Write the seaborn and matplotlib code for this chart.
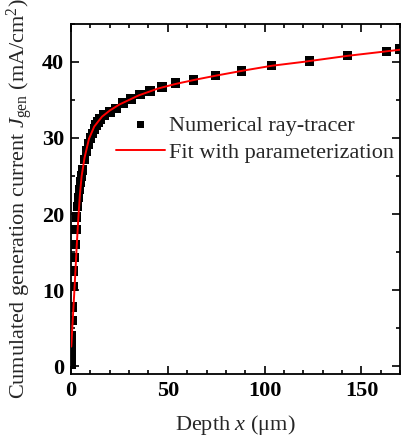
import matplotlib
matplotlib.use("Agg")
import matplotlib.pyplot as plt
import seaborn as sns
import pandas as pd
from matplotlib.ticker import MultipleLocator

# Numerical ray-tracer data (depth in um, J in mA/cm^2)
rt_x = [0, 0.1, 0.2, 0.3, 0.5, 0.7, 1.0, 1.3, 1.6, 2.0, 2.5, 3.0, 3.5, 4.0, 4.5,
        5.0, 5.5, 6.0, 7.0, 8.0, 9.0, 10.0, 11.0, 12.0, 13.0, 14.0, 15.0, 17.0,
        20.1, 23.2, 26.8, 30.9, 35.6, 40.7, 46.9, 54.1, 63.4, 74.7, 88.1, 103.6,
        123.2, 142.8, 162.9, 169.6]
rt_j = [0.3, 1.5, 2.8, 4.0, 6.0, 7.8, 10.5, 12.5, 14.3, 16.0, 18.0, 19.6, 21.0,
        22.2, 23.2, 24.2, 25.0, 25.8, 27.2, 28.3, 29.2, 30.0, 30.6, 31.2, 31.7,
        32.1, 32.5, 33.0, 33.4, 33.9, 34.6, 35.1, 35.7, 36.2, 36.7, 37.2, 37.6,
        38.2, 38.8, 39.5, 40.1, 40.8, 41.4, 41.7]

# Fit with parameterization
fit_x = [0.15, 1.0, 1.6, 2.4, 3.0, 3.8, 4.6, 5.5, 7.0, 9.3, 12.0, 16.0, 20.0,
         25.0, 35.0, 45.0, 54.0, 65.0, 75.0, 90.0, 104.0, 120.0, 143.0, 160.0, 170.0]
fit_j = [2.6, 6.5, 9.2, 13.0, 16.0, 19.5, 22.5, 25.0, 27.4, 29.9, 31.5, 32.8,
         33.6, 34.4, 35.6, 36.5, 37.1, 37.7, 38.2, 38.9, 39.5, 40.0, 40.8, 41.3, 41.6]

sns.set_style("ticks")
plt.rcParams["font.family"] = ["Liberation Serif", "DejaVu Serif"]
plt.rcParams["mathtext.fontset"] = "custom"
plt.rcParams["mathtext.rm"] = "Liberation Serif"
plt.rcParams["mathtext.it"] = "Liberation Serif:italic"
plt.rcParams["mathtext.bf"] = "Liberation Serif:bold"

fig = plt.figure(figsize=(4.01, 4.41), dpi=100)
ax = fig.add_axes([0.177, 0.152, 0.821, 0.794])

df_rt = pd.DataFrame({"x": rt_x, "J": rt_j})
df_fit = pd.DataFrame({"x": fit_x, "J": fit_j})

sns.scatterplot(data=df_rt, x="x", y="J", ax=ax, marker="s", s=46, color="black",
                edgecolor="none", label="Numerical ray-tracer", zorder=2)
sns.lineplot(data=df_fit, x="x", y="J", ax=ax, color="red", linewidth=1.4,
             label="Fit with parameterization", zorder=3)

ax.set_xlim(0, 170)
ax.set_ylim(-1, 45)
ax.xaxis.set_major_locator(MultipleLocator(50))
ax.xaxis.set_minor_locator(MultipleLocator(10))
ax.yaxis.set_major_locator(MultipleLocator(10))
ax.yaxis.set_minor_locator(MultipleLocator(5))
ax.tick_params(which="both", direction="in", top=True, right=True, width=1.2,
               labelsize=16, colors="black", pad=5)
ax.tick_params(which="major", length=6)
ax.tick_params(which="minor", length=3)
for lab in ax.get_xticklabels() + ax.get_yticklabels():
    lab.set_fontweight("bold")
for sp in ax.spines.values():
    sp.set_linewidth(1.3)
    sp.set_color("black")

ax.set_xlabel(r"Depth $x$ ($\mathrm{\mu}$m)", fontsize=16, labelpad=9)
ax.set_ylabel(r"Cumulated generation current $J_{\rm gen}$ (mA/cm$^2$)",
              fontsize=16, labelpad=5)

leg = ax.legend(loc="upper left", bbox_to_anchor=(0.11, 0.765), frameon=False,
                fontsize=16, handlelength=2.2, handletextpad=0.2,
                labelspacing=0.3, borderaxespad=0, markerscale=0.75)

fig.savefig("out.png", dpi=100)
